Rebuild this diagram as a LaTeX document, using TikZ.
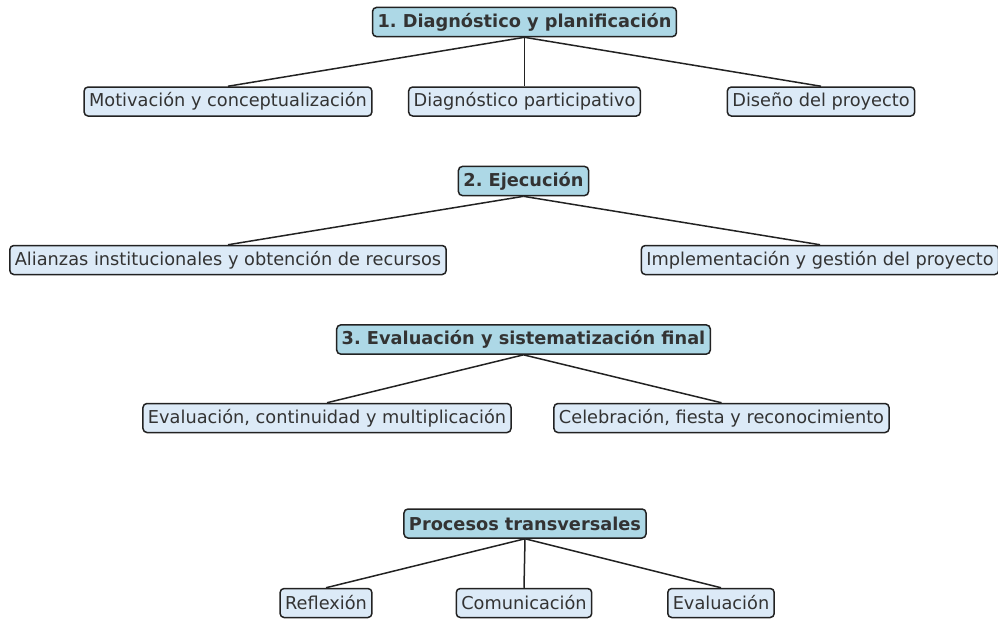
\documentclass[tikz,border=0pt]{standalone}
\usepackage{fontspec}
\setmainfont{DejaVu Sans}
\usepackage{tikz}
\usetikzlibrary{positioning}
\definecolor{fondofase}{HTML}{ADD8E6}
\definecolor{fondotarea}{HTML}{DCEAF7}
\definecolor{texto}{HTML}{333333}
\definecolor{borde}{HTML}{222222}
\frenchspacing
\tikzset{
	every node/.style={
		font=\fontsize{10.65}{12}\selectfont,
		text=texto
	},
	fase/.style={
		shape=rectangle,
		minimum height=17.4pt,
		inner xsep=3pt,
		rounded corners=2.4pt,
		draw=borde,
		line width=0.9pt,
		fill=fondofase,
		font=\fontsize{10.65}{12}\selectfont\bfseries
	},
	tarea/.style={
		shape=rectangle,
		minimum height=17.4pt,
		inner xsep=3pt,
		rounded corners=2.4pt,
		draw=borde,
		line width=0.9pt,
		fill=fondotarea
	},
	rama/.style={
		draw=borde,
		line width=0.9pt
	}
}

\begin{document}
\begin{tikzpicture}[x=0.6pt,y=-0.6pt]
	\useasboundingbox (0,0) rectangle (998,618);

	% 1. diagnostico
	\node[fase]  (diag)  at (524.5,22)  {1. Diagnóstico y planificación};
	\node[tarea] (motiv) at (228,101.5) {Motivación y conceptualización};
	\node[tarea] (part)  at (524.5,101.5) {Diagnóstico participativo};
	\node[tarea] (dise)  at (821,101.5) {Diseño del proyecto};

	% 2. ejecucion
	\node[fase]  (ejec)  at (523.5,181) {2. Ejecución};
	\node[tarea] (alian) at (228,260)   {Alianzas institucionales y obtención de recursos};
	\node[tarea] (impl)  at (820,260)   {Implementación y gestión del proyecto};

	% 3. evaluacion
	\node[fase]  (eval)  at (523.5,339.5) {3. Evaluación y sistematización final};
	\node[tarea] (conti) at (327,418)   {Evaluación, continuidad y multiplicación};
	\node[tarea] (celeb) at (721.5,418) {Celebración, fiesta y reconocimiento};

	% transversales
	\node[fase]  (trans) at (525,523.5) {Procesos transversales};
	\node[tarea] (refl)  at (326,603)   {Reflexión};
	\node[tarea] (comu)  at (524,603)   {Comunicación};
	\node[tarea] (evalt) at (721,603)   {Evaluación};

	\draw[rama] (diag.south) -- (motiv.north);
	\draw[rama] (diag.south) -- (part.north);
	\draw[rama] (diag.south) -- (dise.north);

	\draw[rama] (ejec.south) -- (alian.north);
	\draw[rama] (ejec.south) -- (impl.north);

	\draw[rama] (eval.south) -- (conti.north);
	\draw[rama] (eval.south) -- (celeb.north);

	\draw[rama] (trans.south) -- (refl.north);
	\draw[rama] (trans.south) -- (comu.north);
	\draw[rama] (trans.south) -- (evalt.north);

\end{tikzpicture}
\end{document}
